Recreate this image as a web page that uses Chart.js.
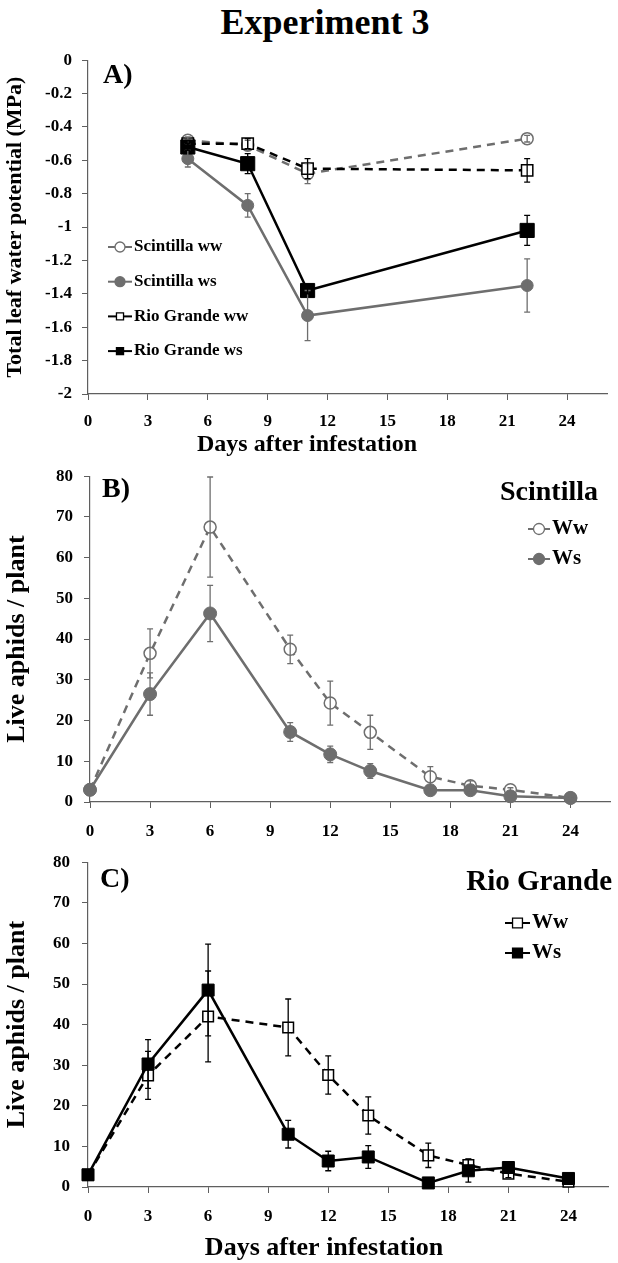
<!DOCTYPE html>
<html>
<head>
<meta charset="utf-8">
<script src="https://cdn.jsdelivr.net/npm/chart.js@4.4.1/dist/chart.umd.min.js"></script>
<style>
  body { margin: 0; background: #fff; width: 618px; height: 1263px; position: relative; overflow: hidden; }
  #title { position: absolute; top: 2px; left: 16px; width: 618px; text-align: center;
           font: bold 36px "Liberation Serif", "Times New Roman", serif; line-height: 40px; }
  canvas { position: absolute; left: 0; }
</style>
</head>
<body>
<div id="title">Experiment 3</div>
<canvas id="panelA" width="618" height="420" style="top:40px"></canvas>
<canvas id="panelB" width="618" height="400" style="top:455px"></canvas>
<canvas id="panelC" width="618" height="423" style="top:840px"></canvas>
<script>
// ---- data ----
const xTicks = [0, 3, 6, 9, 12, 15, 18, 21, 24];
const yTicksA = [-2, -1.8, -1.6, -1.4, -1.2, -1, -0.8, -0.6, -0.4, -0.2, 0];
const yTicksBC = [0, 10, 20, 30, 40, 50, 60, 70, 80];

// panel A: total leaf water potential (MPa)
const daysA = [5, 8, 11, 22];
const scintillaWwA = [-0.48, -0.51, -0.68, -0.47];
const scintillaWwAErr = [0.02, 0.03, 0.06, 0.02];
const scintillaWsA = [-0.59, -0.87, -1.53, -1.35];
const scintillaWsAErr = [0.05, 0.07, 0.15, 0.16];
const rioWwA = [-0.50, -0.50, -0.65, -0.66];
const rioWwAErr = [0.02, 0.03, 0.06, 0.07];
const rioWsA = [-0.52, -0.62, -1.38, -1.02];
const rioWsAErr = [0.02, 0.06, 0.02, 0.09];

// panels B and C: live aphids / plant
const daysBC = [0, 3, 6, 10, 12, 14, 17, 19, 21, 24];
const scintillaWwB = [3, 36.5, 67.5, 37.5, 24.3, 17.1, 6.2, 4, 3, 1];
const scintillaWwBErr = [0.5, 6, 12.3, 3.5, 5.4, 4.2, 2.5, 1.2, 0.5, 0.3];
const scintillaWsB = [3, 26.5, 46.3, 17.2, 11.7, 7.6, 2.9, 2.9, 1.4, 1];
const scintillaWsBErr = [0.5, 5.2, 6.9, 2.3, 2, 1.8, 0.5, 0.6, 0.4, 0.3];
const rioWwC = [3, 27.5, 42, 39.3, 27.6, 17.6, 7.8, 5.4, 3.3, 1.3];
const rioWwCErr = [0.5, 5.9, 11.2, 7, 4.7, 4.6, 3, 1.5, 1, 0.5];
const rioWsC = [3, 30.3, 48.5, 13, 6.4, 7.4, 1, 4, 4.8, 2.1];
const rioWsCErr = [0.5, 6, 11.3, 3.4, 2.4, 2.8, 0.4, 2.8, 1, 0.5];

const GRAY = '#6e6e6e';
const AXIS = '#5f5f5f';
const FONT = '"Liberation Serif", "Times New Roman", serif';

function pts(days, vals) {
  return days.map((d, i) => ({ x: d, y: vals[i] }));
}

function series(days, vals, errs, color, open, style, radius, order) {
  return {
    data: pts(days, vals),
    errors: errs,
    borderColor: color,
    borderWidth: 2.5,
    borderDash: open ? [8, 6] : [],
    pointStyle: style,
    pointRadius: radius,
    pointBackgroundColor: open ? '#fff' : color,
    pointBorderColor: color,
    pointBorderWidth: open ? 1.5 : 1,
    tension: 0,
    clip: false,
    order: order
  };
}

// error bars drawn from the scales
const errorBars = {
  id: 'errorBars',
  afterDatasetsDraw(chart) {
    const ctx = chart.ctx, xs = chart.scales.x, ys = chart.scales.y;
    chart.data.datasets.forEach(ds => {
      if (!ds.errors) return;
      ctx.save();
      ctx.strokeStyle = ds.borderColor;
      ctx.lineWidth = 1.3;
      ds.data.forEach((p, j) => {
        const e = ds.errors[j];
        const x = xs.getPixelForValue(p.x);
        const y1 = ys.getPixelForValue(p.y + e);
        const y2 = ys.getPixelForValue(p.y - e);
        ctx.beginPath();
        ctx.moveTo(x, y1); ctx.lineTo(x, y2);
        ctx.moveTo(x - 3, y1); ctx.lineTo(x + 3, y1);
        ctx.moveTo(x - 3, y2); ctx.lineTo(x + 3, y2);
        ctx.stroke();
      });
      ctx.restore();
    });
  }
};

// panel letter, x title and legend
const decor = {
  id: 'decor',
  afterDraw(chart, args, o) {
    const ctx = chart.ctx;
    ctx.save();
    ctx.fillStyle = '#000';
    ctx.textBaseline = 'middle';
    ctx.textAlign = 'left';
    ctx.font = 'bold 28px ' + FONT;
    ctx.fillText(o.letter, o.letterX, o.letterY);
    if (o.xTitle) {
      ctx.textAlign = 'center';
      ctx.font = 'bold ' + o.xTitleSize + 'px ' + FONT;
      ctx.fillText(o.xTitle, o.xTitleX, o.xTitleY);
    }
    if (o.legendTitle) {
      ctx.textAlign = 'right';
      ctx.font = 'bold ' + o.legendTitleSize + 'px ' + FONT;
      ctx.fillText(o.legendTitle, o.legendTitleX, o.legendTitleY);
    }
    o.items.forEach((item, k) => {
      const ds = chart.data.datasets[item.index];
      const y = o.legendY + k * o.legendGap;
      ctx.strokeStyle = ds.borderColor;
      ctx.lineWidth = 2;
      ctx.setLineDash([]);
      ctx.beginPath();
      ctx.moveTo(o.legendX, y);
      ctx.lineTo(o.legendX + o.lineLen, y);
      ctx.stroke();
      ctx.fillStyle = ds.pointBackgroundColor;
      ctx.strokeStyle = ds.pointBorderColor;
      ctx.lineWidth = 1.3;
      Chart.helpers.drawPoint(ctx, { pointStyle: ds.pointStyle, radius: o.markerR, borderWidth: 1.3, rotation: 0 },
        o.legendX + o.lineLen / 2, y);
      ctx.fillStyle = '#000';
      ctx.textAlign = 'left';
      ctx.font = 'bold ' + o.itemSize + 'px ' + FONT;
      ctx.fillText(item.text, o.legendX + o.lineLen + 2, y);
    });
    ctx.restore();
  }
};

function panel(id, c) {
  return new Chart(document.getElementById(id), {
    type: 'line',
    data: { datasets: c.datasets },
    options: {
      responsive: false,
      animation: false,
      events: [],
      layout: { padding: { top: c.top, right: c.right, left: 0, bottom: 0 } },
      plugins: { legend: { display: false }, tooltip: { enabled: false }, decor: c.decor },
      scales: {
        x: {
          type: 'linear', min: 0, max: 26,
          afterBuildTicks: s => { s.ticks = xTicks.map(v => ({ value: v })); },
          afterFit: s => { s.height = c.xH; },
          grid: { drawOnChartArea: false, tickLength: 6, color: AXIS },
          border: { color: AXIS, width: 1.2 },
          ticks: { color: '#000', font: { family: FONT, size: 17, weight: 'bold' }, padding: c.xPad, maxRotation: 0, autoSkip: false }
        },
        y: {
          type: 'linear', min: c.yMin, max: c.yMax,
          afterBuildTicks: s => { s.ticks = c.yTicks.map(v => ({ value: v })); },
          afterFit: s => { s.width = c.yW; },
          grid: { drawOnChartArea: false, tickLength: 6, color: AXIS },
          border: { color: AXIS, width: 1.2 },
          ticks: { color: '#000', font: { family: FONT, size: 17, weight: 'bold' }, padding: c.yPad, autoSkip: false,
                   callback: v => String(Math.round(v * 10) / 10) },
          title: { display: true, text: c.yTitle, color: '#000', font: { family: FONT, size: c.yTitleSize, weight: 'bold' },
                   padding: { top: c.yTitlePad, bottom: 0 } }
        }
      }
    },
    plugins: [errorBars, decor]
  });
}

panel('panelA', {
  top: 20, right: 3, xH: 66, yW: 88, xPad: 11, yPad: 10,
  yMin: -2, yMax: 0, yTicks: yTicksA,
  yTitle: 'Total leaf water potential (MPa)', yTitleSize: 22, yTitlePad: 2,
  datasets: [
    series(daysA, scintillaWwA, scintillaWwAErr, GRAY, true, 'circle', 6, 3),
    series(daysA, scintillaWsA, scintillaWsAErr, GRAY, false, 'circle', 6, 2),
    series(daysA, rioWwA, rioWwAErr, '#000', true, 'rect', 8, 1),
    series(daysA, rioWsA, rioWsAErr, '#000', false, 'rect', 10, 0)
  ],
  decor: {
    letter: 'A)', letterX: 103, letterY: 36,
    xTitle: 'Days after infestation', xTitleSize: 24, xTitleX: 307, xTitleY: 405,
    legendX: 108, lineLen: 24, legendY: 207, legendGap: 34.7, markerR: 5, itemSize: 17,
    items: [
      { index: 0, text: 'Scintilla ww' },
      { index: 1, text: 'Scintilla ws' },
      { index: 2, text: 'Rio Grande ww' },
      { index: 3, text: 'Rio Grande ws' }
    ]
  }
});

panel('panelB', {
  top: 20, right: 6, xH: 53, yW: 90, xPad: 13, yPad: 11,
  yMin: 0, yMax: 80, yTicks: yTicksBC,
  yTitle: 'Live aphids / plant', yTitleSize: 26, yTitlePad: 2,
  datasets: [
    series(daysBC, scintillaWwB, scintillaWwBErr, GRAY, true, 'circle', 6, 1),
    series(daysBC, scintillaWsB, scintillaWsBErr, GRAY, false, 'circle', 6.5, 0)
  ],
  decor: {
    letter: 'B)', letterX: 102, letterY: 35,
    legendTitle: 'Scintilla', legendTitleSize: 28, legendTitleX: 598, legendTitleY: 38,
    legendX: 528, lineLen: 22, legendY: 74, legendGap: 30, markerR: 5.5, itemSize: 21,
    items: [
      { index: 0, text: 'Ww' },
      { index: 1, text: 'Ws' }
    ]
  }
});

panel('panelC', {
  top: 20, right: 6, xH: 76, yW: 88, xPad: 13, yPad: 12,
  yMin: 0, yMax: 80, yTicks: yTicksBC,
  yTitle: 'Live aphids / plant', yTitleSize: 26, yTitlePad: 2,
  datasets: [
    series(daysBC, rioWwC, rioWwCErr, '#000', true, 'rect', 7.5, 1),
    series(daysBC, rioWsC, rioWsCErr, '#000', false, 'rect', 8.5, 0)
  ],
  decor: {
    letter: 'C)', letterX: 100, letterY: 40,
    xTitle: 'Days after infestation', xTitleSize: 26, xTitleX: 324, xTitleY: 408,
    legendTitle: 'Rio Grande', legendTitleSize: 29, legendTitleX: 612, legendTitleY: 43,
    legendX: 505, lineLen: 25, legendY: 83, legendGap: 30, markerR: 7, itemSize: 21,
    items: [
      { index: 0, text: 'Ww' },
      { index: 1, text: 'Ws' }
    ]
  }
});
</script>
</body>
</html>
